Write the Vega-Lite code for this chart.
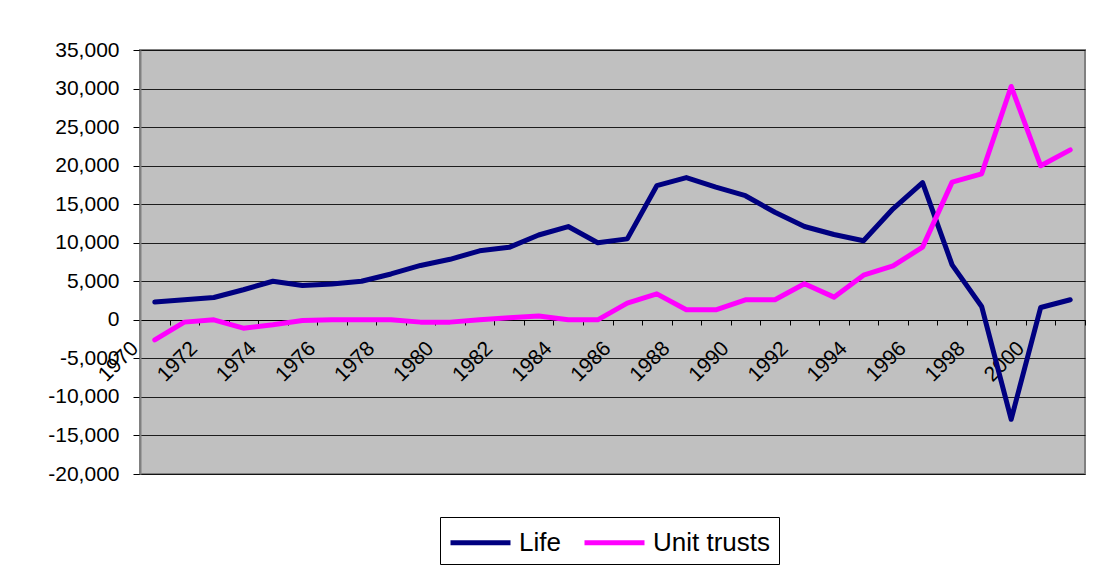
{
  "$schema": "https://vega.github.io/schema/vega-lite/v6.json",
  "autosize": "none",
  "width": 945,
  "height": 424,
  "padding": {"left": 140, "top": 50, "right": 13, "bottom": 93},
  "background": "white",
  "config": {
    "font": "Liberation Sans",
    "view": {"fill": "#C0C0C0", "stroke": "#808080", "strokeWidth": 2}
  },
  "data": {
    "values": [
      {"year": 1970, "series": "Life", "value": 2300},
      {"year": 1971, "series": "Life", "value": 2600},
      {"year": 1972, "series": "Life", "value": 2900},
      {"year": 1973, "series": "Life", "value": 3900},
      {"year": 1974, "series": "Life", "value": 5000},
      {"year": 1975, "series": "Life", "value": 4450},
      {"year": 1976, "series": "Life", "value": 4650},
      {"year": 1977, "series": "Life", "value": 5000},
      {"year": 1978, "series": "Life", "value": 5950},
      {"year": 1979, "series": "Life", "value": 7050},
      {"year": 1980, "series": "Life", "value": 7850},
      {"year": 1981, "series": "Life", "value": 8950},
      {"year": 1982, "series": "Life", "value": 9400},
      {"year": 1983, "series": "Life", "value": 11000},
      {"year": 1984, "series": "Life", "value": 12100},
      {"year": 1985, "series": "Life", "value": 10000},
      {"year": 1986, "series": "Life", "value": 10500},
      {"year": 1987, "series": "Life", "value": 17400},
      {"year": 1988, "series": "Life", "value": 18450},
      {"year": 1989, "series": "Life", "value": 17200},
      {"year": 1990, "series": "Life", "value": 16100},
      {"year": 1991, "series": "Life", "value": 13950},
      {"year": 1992, "series": "Life", "value": 12100},
      {"year": 1993, "series": "Life", "value": 11070},
      {"year": 1994, "series": "Life", "value": 10250},
      {"year": 1995, "series": "Life", "value": 14400},
      {"year": 1996, "series": "Life", "value": 17800},
      {"year": 1997, "series": "Life", "value": 7130},
      {"year": 1998, "series": "Life", "value": 1730},
      {"year": 1999, "series": "Life", "value": -12900},
      {"year": 2000, "series": "Life", "value": 1600},
      {"year": 2001, "series": "Life", "value": 2600},
      {"year": 1970, "series": "Unit trusts", "value": -2600},
      {"year": 1971, "series": "Unit trusts", "value": -300},
      {"year": 1972, "series": "Unit trusts", "value": 0},
      {"year": 1973, "series": "Unit trusts", "value": -1080},
      {"year": 1974, "series": "Unit trusts", "value": -650},
      {"year": 1975, "series": "Unit trusts", "value": -100},
      {"year": 1976, "series": "Unit trusts", "value": 0},
      {"year": 1977, "series": "Unit trusts", "value": 0},
      {"year": 1978, "series": "Unit trusts", "value": 0},
      {"year": 1979, "series": "Unit trusts", "value": -300},
      {"year": 1980, "series": "Unit trusts", "value": -300},
      {"year": 1981, "series": "Unit trusts", "value": 0},
      {"year": 1982, "series": "Unit trusts", "value": 260},
      {"year": 1983, "series": "Unit trusts", "value": 500},
      {"year": 1984, "series": "Unit trusts", "value": 0},
      {"year": 1985, "series": "Unit trusts", "value": 0},
      {"year": 1986, "series": "Unit trusts", "value": 2160},
      {"year": 1987, "series": "Unit trusts", "value": 3370},
      {"year": 1988, "series": "Unit trusts", "value": 1300},
      {"year": 1989, "series": "Unit trusts", "value": 1300},
      {"year": 1990, "series": "Unit trusts", "value": 2600},
      {"year": 1991, "series": "Unit trusts", "value": 2600},
      {"year": 1992, "series": "Unit trusts", "value": 4670},
      {"year": 1993, "series": "Unit trusts", "value": 2940},
      {"year": 1994, "series": "Unit trusts", "value": 5790},
      {"year": 1995, "series": "Unit trusts", "value": 7000},
      {"year": 1996, "series": "Unit trusts", "value": 9430},
      {"year": 1997, "series": "Unit trusts", "value": 17860},
      {"year": 1998, "series": "Unit trusts", "value": 18940},
      {"year": 1999, "series": "Unit trusts", "value": 30270},
      {"year": 2000, "series": "Unit trusts", "value": 19980},
      {"year": 2001, "series": "Unit trusts", "value": 22050}
    ]
  },
  "mark": {"type": "line", "strokeWidth": 5, "strokeCap": "round", "strokeJoin": "round"},
  "encoding": {
    "x": {
      "field": "year",
      "type": "ordinal",
      "scale": {"type": "band", "paddingInner": 0, "paddingOuter": 0},
      "axis": {
        "title": null,
        "offset": -154,
        "tickBand": "extent",
        "domainColor": "black",
        "domainWidth": 1,
        "tickColor": "black",
        "tickSize": 5,
        "labelAngle": -45,
        "labelAlign": "right",
        "labelBaseline": "middle",
        "labelFontSize": 21,
        "labelColor": "black",
        "labelOffset": -20,
        "labelPadding": 20,
        "labelOverlap": false,
        "labelExpr": "datum.value % 2 == 0 ? datum.label : ''",
        "grid": false
      }
    },
    "y": {
      "field": "value",
      "type": "quantitative",
      "scale": {"domain": [-20000, 35000], "nice": false, "zero": false},
      "axis": {
        "title": null,
        "values": [-20000, -15000, -10000, -5000, 0, 5000, 10000, 15000, 20000, 25000, 30000, 35000],
        "format": ",.0f",
        "labelExpr": "replace(datum.label, '\u2212', '-')",
        "labelFontSize": 21,
        "labelColor": "black",
        "labelPadding": 14,
        "tickColor": "black",
        "tickSize": 7,
        "domainColor": "#808080",
        "domainWidth": 2,
        "grid": true,
        "gridColor": "black",
        "gridWidth": 1,
        "gridOpacity": 0.85
      }
    },
    "color": {
      "field": "series",
      "type": "nominal",
      "scale": {"domain": ["Life", "Unit trusts"], "range": ["#000080", "#FF00FF"]},
      "legend": {
        "title": null,
        "orient": "none",
        "legendX": 300,
        "legendY": 467,
        "direction": "horizontal",
        "symbolType": "M-1,0H3",
        "symbolSize": 900,
        "symbolStrokeWidth": 5,
        "labelFontSize": 26,
        "labelColor": "black",
        "labelOffset": 36,
        "columnPadding": 13,
        "padding": 8,
        "strokeColor": "black",
        "fillColor": "white"
      }
    }
  }
}
